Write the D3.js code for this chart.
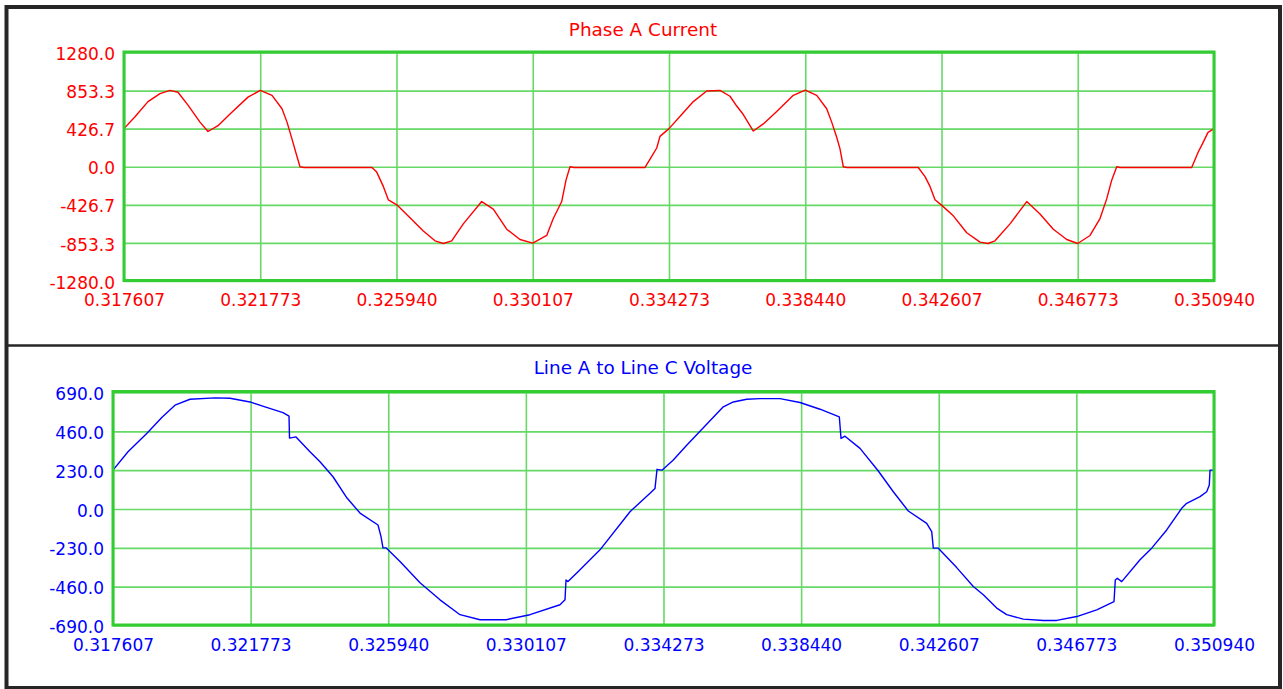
<!DOCTYPE html>
<html>
<head>
<meta charset="utf-8">
<script src="https://cdn.jsdelivr.net/npm/d3@7"></script>
<style>
  html, body { margin: 0; padding: 0; background: #ffffff; }
  svg { display: block; }
  text { font-family: "DejaVu Sans", Verdana, sans-serif; }
</style>
</head>
<body>
<svg id="chart" width="1283" height="689"></svg>
<script>
// ---------------- data ----------------
const timeTicks = [0.317607, 0.321773, 0.325940, 0.330107, 0.334273, 0.338440, 0.342607, 0.346773, 0.350940];
const timeTickLabels = ["0.317607", "0.321773", "0.325940", "0.330107", "0.334273", "0.338440", "0.342607", "0.346773", "0.350940"];
const currentTicks = [-1280.0, -853.3, -426.7, 0.0, 426.7, 853.3, 1280.0];
const voltageTicks = [-690.0, -460.0, -230.0, 0.0, 230.0, 460.0, 690.0];

const currentTitle = "Phase A Current";
const voltageTitle = "Line A to Line C Voltage";

const currentTime = [0.317607,0.317943,0.318341,0.318708,0.319014,0.319258,0.319564,0.319931,0.320176,0.320482,
  0.320849,0.321399,0.321773,0.322133,0.322439,0.322592,0.322745,0.322897,0.322989,0.323112,
  0.325191,0.325335,0.325537,0.325690,0.325965,0.326353,0.326760,0.327118,0.327372,0.327628,
  0.327983,0.328546,0.328901,0.329310,0.329717,0.330107,0.330534,0.330735,0.330992,0.331124,
  0.331246,0.331369,0.333540,0.333745,0.333898,0.333998,0.334273,0.334662,0.335017,0.335427,
  0.335833,0.336139,0.336344,0.336546,0.336852,0.337157,0.337568,0.338075,0.338440,0.338791,
  0.339096,0.339249,0.339402,0.339503,0.339604,0.339717,0.341897,0.342103,0.342255,0.342408,
  0.342607,0.342968,0.343378,0.343785,0.344029,0.344243,0.344702,0.345213,0.345619,0.346026,
  0.346436,0.346773,0.347148,0.347454,0.347659,0.347812,0.347965,0.348066,0.350258,0.350451,
  0.350604,0.350757,0.350940];
const currentValue = [427,560,730,820,855,835,690,500,395,460,
  590,780,855,800,650,500,310,115,0,-8,
  -8,-60,-220,-370,-430,-570,-720,-830,-860,-830,
  -640,-390,-475,-700,-815,-855,-770,-580,-390,-150,
  0,-8,-8,115,210,340,427,585,730,848,
  855,790,680,585,400,480,620,800,858,800,
  650,500,330,200,0,-8,-8,-110,-220,-370,
  -430,-550,-740,-845,-860,-830,-640,-390,-530,-700,
  -815,-860,-770,-580,-360,-150,0,-8,-8,160,
  270,385,427];

const voltageTime = [0.317607,0.318061,0.318636,0.319091,0.319484,0.319938,0.320695,0.321149,0.321755,0.322209,
  0.322754,0.322936,0.322951,0.323147,0.323571,0.323874,0.324268,0.324692,0.325085,0.325630,
  0.325721,0.325781,0.325872,0.326296,0.326902,0.327507,0.328113,0.328718,0.329505,0.330232,
  0.331140,0.331292,0.331322,0.331382,0.331685,0.332351,0.333259,0.333865,0.334016,0.334077,
  0.334228,0.334570,0.334976,0.335379,0.336084,0.336387,0.336793,0.337195,0.337801,0.338406,
  0.339012,0.339596,0.339648,0.339769,0.340223,0.340777,0.341231,0.341685,0.342242,0.342394,
  0.342442,0.342594,0.343150,0.343653,0.343956,0.344362,0.344664,0.345167,0.345773,0.346178,
  0.346784,0.347389,0.347913,0.347952,0.348013,0.348146,0.348700,0.349054,0.349508,0.349962,
  0.350114,0.350517,0.350719,0.350798,0.350819,0.350940];
const voltageValue = [230,339,449,544,615,650,658,656,634,605,
  571,550,420,427,339,280,191,65,-24,-95,
  -164,-230,-230,-311,-437,-538,-626,-656,-656,-626,
  -567,-538,-420,-430,-371,-242,-16,93,122,235,
  230,290,378,461,605,634,650,654,654,631,
  591,546,418,431,359,225,102,-12,-85,-134,
  -232,-232,-347,-459,-508,-587,-626,-652,-660,-660,
  -637,-597,-548,-420,-410,-430,-301,-232,-124,4,
  34,73,102,142,230,230];

// ---------------- drawing ----------------
const W = 1283, H = 689;
const svg = d3.select("#chart");
svg.append("rect").attr("width", W).attr("height", H).attr("fill", "#ffffff");

const BORDER_GREEN = "#33cc33";
const GRID_GREEN = "#66d966";
const FONT = '"DejaVu Sans", Verdana, sans-serif';
const fmt1 = d3.format(".1f");
const fmt = d => fmt1(d).replace("\u2212", "-");

const panels = [
  { title: currentTitle, color: "#ff0000", times: currentTime, values: currentValue, ticks: currentTicks,
    left: 124, right: 1214, top: 52.5, bottom: 281, boxTop: 52, boxBottom: 280.5, titleY: 36 },
  { title: voltageTitle, color: "#0000ff", times: voltageTime, values: voltageValue, ticks: voltageTicks,
    left: 113, right: 1214, top: 392.5, bottom: 625.5, boxTop: 391.5, boxBottom: 625, titleY: 374 }
];

panels.forEach(p => {
  const g = svg.append("g");
  const yMin = d3.min(p.ticks), yMax = d3.max(p.ticks);
  const x = d3.scaleLinear().domain([timeTicks[0], timeTicks[timeTicks.length - 1]]).range([p.left, p.right]);
  const y = d3.scaleLinear().domain([yMin, yMax]).range([p.bottom, p.top]);

  // horizontal grid
  const yGrid = d3.axisLeft(y).tickValues(p.ticks).tickSize(-(p.right - p.left)).tickFormat("");
  g.append("g").attr("transform", `translate(${p.left},0)`).call(yGrid)
    .call(s => s.select(".domain").remove())
    .call(s => s.selectAll("line").attr("stroke", GRID_GREEN).attr("stroke-width", 1.6));
  // vertical grid
  const xGrid = d3.axisBottom(x).tickValues(timeTicks).tickSize(-(p.bottom - p.boxTop)).tickFormat("");
  g.append("g").attr("transform", `translate(0,${p.boxBottom})`).call(xGrid)
    .call(s => s.select(".domain").remove())
    .call(s => s.selectAll("line").attr("stroke", GRID_GREEN).attr("stroke-width", 1.6));

  // data line
  const pts = p.times.map((t, i) => [t, p.values[i]]);
  const line = d3.line().x(d => x(d[0])).y(d => y(d[1]));
  g.append("path").datum(pts).attr("d", line)
    .attr("fill", "none").attr("stroke", p.color).attr("stroke-width", 1.4)
    .attr("stroke-linejoin", "round");

  // plot border
  g.append("rect").attr("x", p.left).attr("y", p.boxTop)
    .attr("width", p.right - p.left).attr("height", p.boxBottom - p.boxTop)
    .attr("fill", "none").attr("stroke", BORDER_GREEN).attr("stroke-width", 3);

  // y tick labels
  const yAxis = d3.axisLeft(y).tickValues(p.ticks).tickSize(0).tickPadding(9).tickFormat(d => fmt(d));
  g.append("g").attr("transform", `translate(${p.left},0)`).call(yAxis)
    .call(s => s.select(".domain").remove())
    .call(s => s.selectAll("text").attr("fill", p.color).attr("font-size", 17)
      .attr("font-family", FONT).attr("dy", "0.42em"));

  // x tick labels
  const xAxis = d3.axisBottom(x).tickValues(timeTicks).tickSize(0).tickPadding(0)
    .tickFormat((d, i) => timeTickLabels[i]);
  g.append("g").attr("transform", `translate(0,${p.boxBottom})`).call(xAxis)
    .call(s => s.select(".domain").remove())
    .call(s => s.selectAll("text").attr("fill", p.color).attr("font-size", 17)
      .attr("font-family", FONT).attr("y", 25.5).attr("dy", 0));

  // title
  g.append("text").attr("x", W / 2 + 1.5).attr("y", p.titleY).attr("text-anchor", "middle")
    .attr("fill", p.color).attr("font-size", 18.4).attr("font-family", FONT).text(p.title);
});

// outer frame and divider
svg.append("rect").attr("x", 6.5).attr("y", 7).attr("width", 1273.5).attr("height", 681)
  .attr("fill", "none").attr("stroke", "#262626").attr("stroke-width", 4);
svg.append("line").attr("x1", 6).attr("x2", 1280).attr("y1", 345.5).attr("y2", 345.5)
  .attr("stroke", "#262626").attr("stroke-width", 2.5);
</script>
</body>
</html>
